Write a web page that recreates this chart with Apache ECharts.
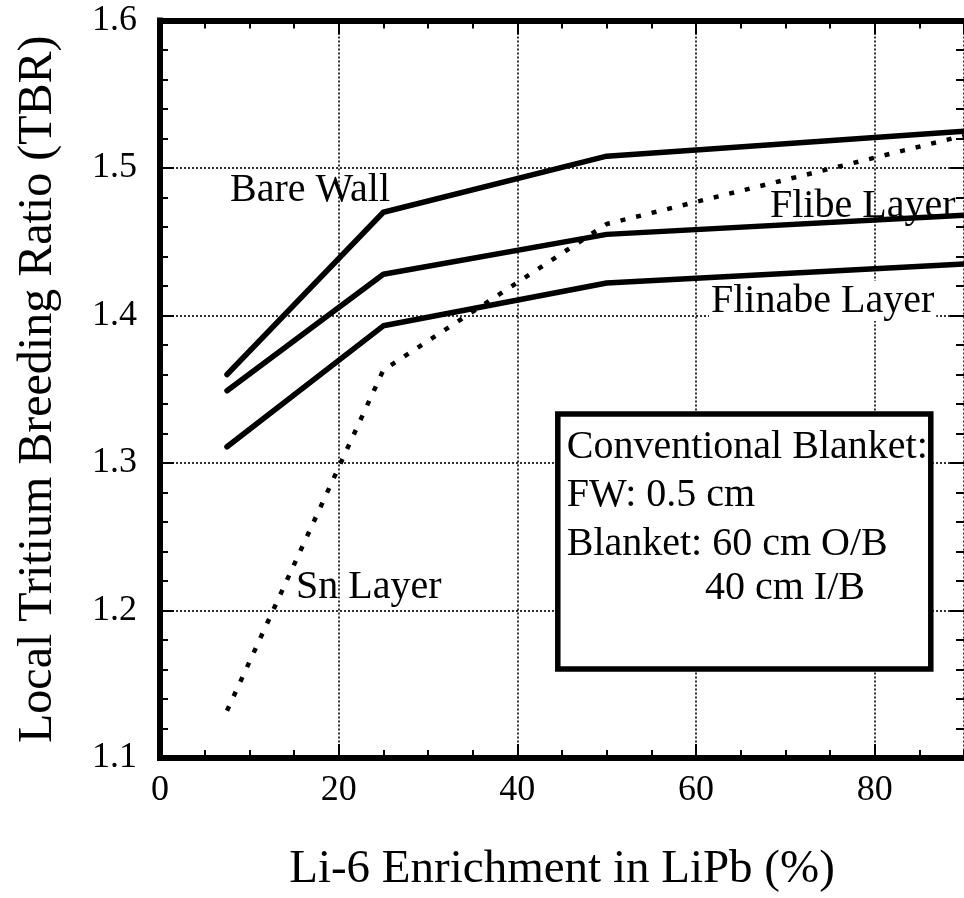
<!DOCTYPE html>
<html>
<head>
<meta charset="utf-8">
<script src="https://cdn.jsdelivr.net/npm/echarts@6/dist/echarts.min.js"></script>
<style>
html,body{margin:0;padding:0;background:#fff;}
#chart{width:964px;height:898px;}
</style>
</head>
<body>
<div id="chart"></div>
<script>
// ---- data ----
const enrichment = [7.5, 25, 50, 90];
const bareWall   = [1.360, 1.470, 1.508, 1.525];
const flibe      = [1.349, 1.428, 1.455, 1.468];
const flinabe    = [1.311, 1.393, 1.422, 1.435];
const snLayer    = [1.132, 1.363, 1.462, 1.522];

const xTickValues = [0, 20, 40, 60, 80];
const yTickLabels = ['1.1', '1.2', '1.3', '1.4', '1.5', '1.6'];

const xTitle = 'Li-6 Enrichment in LiPb (%)';
const yTitle = 'Local Tritium Breeding Ratio (TBR)';
const boxLines = ['Conventional Blanket:', 'FW: 0.5 cm', 'Blanket: 60 cm O/B', '40 cm I/B'];

const FONT = '"Liberation Serif", "Times New Roman", serif';

function pairs(ys) { return enrichment.map((x, i) => [x, ys[i]]); }

const chart = echarts.init(document.getElementById('chart'));

const axisLineStyle = { color: '#000', width: 6, cap: 'square' };
const tickStyle = { color: '#000', width: 2 };
const gridStyle = { color: '#000', width: 1.6, type: [2, 2] };

function majorX(position, withLabels) {
  return {
    type: 'value', position: position, min: 0, max: 90, interval: 20,
    axisLine: { show: true, onZero: false, lineStyle: axisLineStyle },
    axisTick: { show: true, inside: true, length: 14, lineStyle: tickStyle },
    splitLine: { show: withLabels, lineStyle: gridStyle },
    axisLabel: withLabels ? {
      show: true, showMaxLabel: false, margin: 15,
      fontFamily: FONT, fontSize: 36, color: '#000',
      formatter: v => (xTickValues.indexOf(v) >= 0 ? String(v) : '')
    } : { show: false },
    name: withLabels ? xTitle : '',
    nameLocation: 'middle', nameGap: 88,
    nameTextStyle: { fontFamily: FONT, fontSize: 47, color: '#000' }
  };
}
function minorX(position) {
  return {
    type: 'value', position: position, min: 0, max: 90, interval: 5,
    axisLine: { show: false, onZero: false },
    axisTick: { show: true, inside: true, length: 8, lineStyle: tickStyle },
    splitLine: { show: false },
    axisLabel: { show: false }
  };
}
function yAx(position, withLabels) {
  return {
    type: 'value', position: position, min: 1.1, max: 1.6, interval: 0.1,
    axisLine: { show: withLabels, onZero: false, lineStyle: axisLineStyle },
    axisTick: { show: true, inside: true, length: 14, lineStyle: tickStyle },
    minorTick: { show: true, splitNumber: 5, length: 8, lineStyle: tickStyle },
    splitLine: { show: withLabels, lineStyle: gridStyle },
    axisLabel: withLabels ? {
      show: true, margin: 23, fontFamily: FONT, fontSize: 36, color: '#000',
      formatter: v => yTickLabels[Math.round((v - 1.1) * 10)]
    } : { show: false },
    name: withLabels ? yTitle : '',
    nameLocation: 'middle', nameGap: 98, nameRotate: 90,
    nameTextStyle: { fontFamily: FONT, fontSize: 48, color: '#000' }
  };
}

function lineSeries(name, ys, dotted) {
  return {
    name: name, type: 'line', xAxisIndex: 0, yAxisIndex: 0,
    data: pairs(ys), symbol: 'none', smooth: false, z: 5,
    lineStyle: dotted
      ? { color: '#000', width: 4.5, type: [5, 11], cap: 'butt' }
      : { color: '#000', width: 5.5, cap: 'round', join: 'round' },
    emphasis: { disabled: true }
  };
}

function txt(text, x, y, opts) {
  return {
    type: 'text', z: 100,
    style: Object.assign({
      text: text, x: x, y: y, fontFamily: FONT, fontSize: 40, fill: '#000',
      align: 'left', verticalAlign: 'middle'
    }, opts || {})
  };
}

const option = {
  animation: false,
  backgroundColor: '#fff',
  grid: { left: 160, right: -3, top: 20.5, bottom: 133, containLabel: false },
  xAxis: [majorX('bottom', true), minorX('bottom'), majorX('top', false), minorX('top')],
  yAxis: [yAx('left', true), yAx('right', false)],
  series: [
    lineSeries('Bare Wall', bareWall, false),
    lineSeries('Flibe Layer', flibe, false),
    lineSeries('Flinabe Layer', flinabe, false),
    lineSeries('Sn Layer', snLayer, true)
  ],
  graphic: [
    txt('Bare Wall', 230, 190),
    txt('Flibe Layer', 770, 206),
    txt('Flinabe Layer', 709, 301, { backgroundColor: '#fff', padding: [0, 2, 0, 2] }),
    txt('Sn Layer', 296, 587),
    { type: 'rect', z: 90,
      shape: { x: 557.8, y: 414, width: 373, height: 255 },
      style: { fill: '#fff', stroke: '#000', lineWidth: 5.5 } },
    txt(boxLines[0], 566.7, 447.5),
    txt(boxLines[1], 566.7, 495.3),
    txt(boxLines[2], 566.7, 544),
    txt(boxLines[3], 705, 588.3)
  ]
};
chart.setOption(option);
</script>
</body>
</html>
